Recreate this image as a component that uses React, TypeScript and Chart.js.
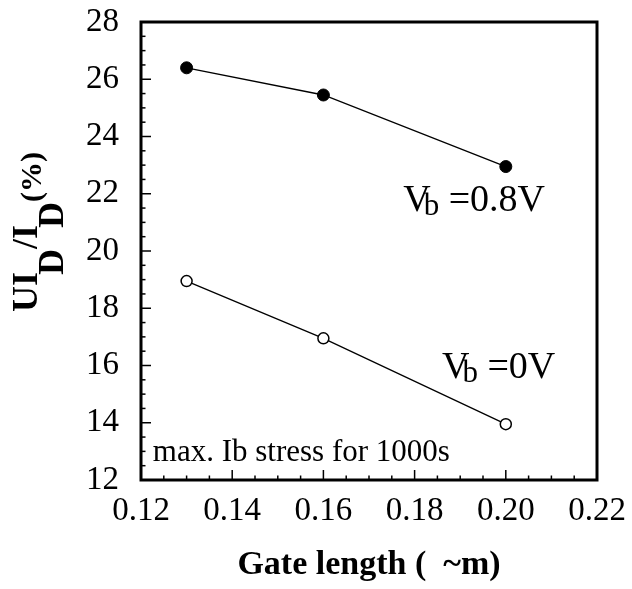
import React, { useEffect, useRef } from "react";
import { Chart, registerables } from "chart.js";

Chart.register(...registerables);

// ---- data ----
const gateLength = [0.13, 0.16, 0.2];
const vb08Values = [26.4, 25.45, 22.95];
const vb0Values = [18.95, 16.95, 13.95];
const xTickValues = [0.12, 0.14, 0.16, 0.18, 0.2, 0.22];
const yTickValues = [12, 14, 16, 18, 20, 22, 24, 26, 28];
const xTitle = "Gate length (  ~m)";
const noteText = "max. Ib stress for 1000s";
// annotation anchors in data units
const label08Pos = { x: 0.1775, y: 21.4 };
const label0Pos = { x: 0.186, y: 15.56 };
const notePos = { x: 0.1226, y: 12.66 };

const FAMILY = '"Liberation Serif", "Times New Roman", Times, serif';

type Run = { text: string; size: number; bold?: boolean; dy?: number; dx?: number };

function runFont(r: Run) {
  return `${r.bold ? "bold " : ""}${r.size}px ${FAMILY}`;
}
function runsWidth(ctx: CanvasRenderingContext2D, runs: Run[]) {
  let w = 0;
  for (const r of runs) {
    ctx.font = runFont(r);
    w += (r.dx || 0) + ctx.measureText(r.text).width;
  }
  return w;
}
function drawRuns(ctx: CanvasRenderingContext2D, x: number, y: number, runs: Run[]) {
  let cx = x;
  for (const r of runs) {
    cx += r.dx || 0;
    ctx.font = runFont(r);
    ctx.fillText(r.text, cx, y + (r.dy || 0));
    cx += ctx.measureText(r.text).width;
  }
}

const yTitleRuns: Run[] = [
  { text: "UI", size: 36, bold: true },
  { text: "D", size: 36, bold: true, dy: 26, dx: -3 },
  { text: "/I", size: 36, bold: true },
  { text: "D", size: 36, bold: true, dy: 26, dx: -3 },
  { text: "(%)", size: 30, bold: true, dy: 4 },
];
const label08Runs: Run[] = [
  { text: "V", size: 38 },
  { text: "b", size: 31, dy: 4, dx: -7 },
  { text: " =0.8V", size: 38 },
];
const label0Runs: Run[] = [
  { text: "V", size: 38 },
  { text: "b", size: 31, dy: 4, dx: -7 },
  { text: " =0V", size: 38 },
];

// desired plot frame inside the 632x589 canvas
const FRAME = { left: 141, top: 22, right: 597, bottom: 480 };

const decorPlugin = {
  id: "decor",
  afterDatasetsDraw(chart: any) {
    const { ctx, chartArea: a, scales } = chart;
    const xs = scales.x;
    const ys = scales.y;
    ctx.save();
    ctx.strokeStyle = "#000";
    ctx.fillStyle = "#000";
    ctx.lineWidth = 1.5;
    const xMin = xTickValues[0];
    const xMax = xTickValues[xTickValues.length - 1];
    const xStep = 0.005;
    const nx = Math.round((xMax - xMin) / xStep);
    for (let i = 0; i <= nx; i++) {
      const px = xs.getPixelForValue(xMin + i * xStep);
      const len = i % 4 === 0 ? 10 : 4.5;
      ctx.beginPath();
      ctx.moveTo(px, a.bottom);
      ctx.lineTo(px, a.bottom - len);
      ctx.stroke();
    }
    const yMin = yTickValues[0];
    const yMax = yTickValues[yTickValues.length - 1];
    const yStep = 0.5;
    const ny = Math.round((yMax - yMin) / yStep);
    for (let i = 0; i <= ny; i++) {
      const py = ys.getPixelForValue(yMin + i * yStep);
      const len = i % 4 === 0 ? 10 : 4.5;
      ctx.beginPath();
      ctx.moveTo(a.left, py);
      ctx.lineTo(a.left + len, py);
      ctx.stroke();
    }
    ctx.lineWidth = 3;
    ctx.strokeRect(a.left, a.top, a.right - a.left, a.bottom - a.top);

    ctx.textBaseline = "alphabetic";
    ctx.textAlign = "left";
    drawRuns(ctx, xs.getPixelForValue(label08Pos.x), ys.getPixelForValue(label08Pos.y), label08Runs);
    drawRuns(ctx, xs.getPixelForValue(label0Pos.x), ys.getPixelForValue(label0Pos.y), label0Runs);
    ctx.font = `31px ${FAMILY}`;
    ctx.fillText(noteText, xs.getPixelForValue(notePos.x), ys.getPixelForValue(notePos.y));

    const w = runsWidth(ctx, yTitleRuns);
    const cy = (a.top + a.bottom) / 2 - 19;
    ctx.translate(37, cy + w / 2);
    ctx.rotate(-Math.PI / 2);
    drawRuns(ctx, 0, 0, yTitleRuns);
    ctx.restore();
  },
};

const hiddenGrid = (len: number) => ({
  display: true,
  drawOnChartArea: false,
  drawTicks: true,
  tickLength: len,
  color: "rgba(0,0,0,0)",
});

export default function App() {
  const canvasRef = useRef<HTMLCanvasElement | null>(null);

  useEffect(() => {
    document.body.style.margin = "0";
    const canvas = canvasRef.current;
    if (!canvas) return;
    Chart.defaults.color = "#000";
    const sizes = { yWidth: FRAME.left, xHeight: 589 - FRAME.bottom };
    const pad = { top: FRAME.top, right: 632 - FRAME.right, left: 0, bottom: 0 };
    const chart = new Chart(canvas, {
      type: "line",
      data: {
        datasets: [
          {
            label: "Vb=0.8V",
            data: gateLength.map((x, i) => ({ x, y: vb08Values[i] })),
            borderColor: "#000",
            borderWidth: 1.3,
            pointRadius: 6,
            pointBackgroundColor: "#000",
            pointBorderColor: "#000",
            pointBorderWidth: 1,
            tension: 0,
          },
          {
            label: "Vb=0V",
            data: gateLength.map((x, i) => ({ x, y: vb0Values[i] })),
            borderColor: "#000",
            borderWidth: 1.3,
            pointRadius: 5.5,
            pointBackgroundColor: "#fff",
            pointBorderColor: "#000",
            pointBorderWidth: 1.5,
            tension: 0,
          },
        ],
      },
      options: {
        animation: false,
        responsive: true,
        maintainAspectRatio: false,
        layout: { padding: () => ({ top: pad.top, right: pad.right, left: pad.left, bottom: pad.bottom }) },
        plugins: { legend: { display: false }, tooltip: { enabled: false } },
        scales: {
          x: {
            type: "linear",
            min: 0.12,
            max: 0.22,
            afterBuildTicks: (s: any) => {
              s.ticks = xTickValues.map((value) => ({ value }));
            },
            afterFit: (s: any) => {
              s.height = sizes.xHeight;
            },
            grid: hiddenGrid(12),
            border: { display: false },
            ticks: {
              padding: 0,
              color: "#000",
              font: { family: FAMILY, size: 33 },
              callback: (v: any) => Number(v).toFixed(2),
            },
            title: {
              display: true,
              text: xTitle,
              color: "#000",
              font: { family: FAMILY, size: 34, weight: "bold" },
              padding: { top: 0, bottom: 3 },
            },
          },
          y: {
            type: "linear",
            min: 12,
            max: 28,
            afterBuildTicks: (s: any) => {
              s.ticks = yTickValues.map((value) => ({ value }));
            },
            afterFit: (s: any) => {
              s.width = sizes.yWidth;
            },
            grid: hiddenGrid(22),
            border: { display: false },
            ticks: {
              padding: 0,
              color: "#000",
              font: { family: FAMILY, size: 33 },
              callback: (v: any) => String(v),
            },
            title: { display: false },
          },
        },
      },
      plugins: [decorPlugin],
    } as any);

    // nudge layout so the plot frame lands on FRAME
    for (let k = 0; k < 4; k++) {
      const ca = chart.chartArea;
      if (!ca) break;
      const dTop = FRAME.top - ca.top;
      const dRight = ca.right - FRAME.right;
      const dBottom = ca.bottom - FRAME.bottom;
      const dLeft = FRAME.left - ca.left;
      if (Math.abs(dTop) + Math.abs(dRight) + Math.abs(dBottom) + Math.abs(dLeft) < 0.3) break;
      pad.top = Math.max(0, pad.top + dTop);
      pad.right = Math.max(0, pad.right + dRight);
      sizes.xHeight += dBottom;
      sizes.yWidth += dLeft;
      chart.update();
    }
    return () => chart.destroy();
  }, []);

  return (
    <div style={{ width: 632, height: 589, position: "relative", background: "#fff" }}>
      <canvas ref={canvasRef} />
    </div>
  );
}
